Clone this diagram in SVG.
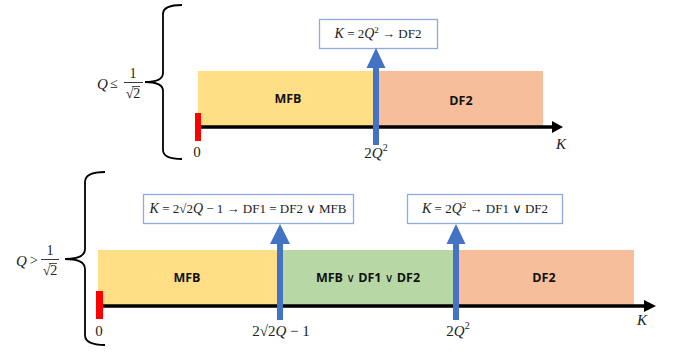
<svg xmlns="http://www.w3.org/2000/svg" width="676" height="356" viewBox="0 0 676 356">
<defs>
<style>
.m{font-family:"Liberation Serif","DejaVu Serif",serif;font-size:14px;fill:#222}
.mi{font-family:"Liberation Serif","DejaVu Serif",serif;font-style:italic;font-size:15px;fill:#222}
.b{font-family:"Open Sans","Liberation Sans",sans-serif;font-weight:bold;font-size:12.5px;fill:#111;text-anchor:middle}
.or{font-family:"DejaVu Sans",sans-serif;font-weight:normal;font-size:12px}
.box{fill:#fff;stroke:#8FAADC;stroke-width:1.3}
.brace{fill:none;stroke:#000;stroke-width:1.8}
.axis{stroke:#000;stroke-width:3.5}
.yel{fill:#FFDE85}
.ora{fill:#F6BE9A}
.grn{fill:#B7D7A5}
.blue{fill:#4472C4}
.red{fill:#FF0000}
</style>
</defs>

<!-- Top case -->
<g id="top-brace">
<path class="brace" d="M182,5 Q163,5 163,14 L163,73 Q163,82 145,82 Q163,82 163,91 L163,150 Q163,159 182,159"/>
<text class="mi" x="97" y="89">Q</text>
<text class="m" x="110" y="88">≤</text>
<text class="m" x="133" y="78" text-anchor="middle">1</text>
<line x1="124" y1="82.5" x2="143" y2="82.5" stroke="#222" stroke-width="0.9"/>
<text class="m" x="133" y="98" text-anchor="middle">√2</text>
<line x1="132" y1="86.5" x2="140" y2="86.5" stroke="#222" stroke-width="0.8"/>
</g>

<g id="top-mfb">
<rect class="yel" x="198" y="71" width="177" height="56"/>
<text class="b" x="288" y="103">MFB</text>
</g>
<g id="top-df2">
<rect class="ora" x="375" y="71" width="168" height="56"/>
<text class="b" x="461" y="105">DF2</text>
</g>

<g id="top-box">
<rect class="box" x="319.5" y="19.5" width="118" height="29"/>
<text x="378" y="38" text-anchor="middle"><tspan class="mi" style="font-size:14px">K</tspan><tspan class="m" style="font-size:13px"> = 2</tspan><tspan class="mi" style="font-size:14px">Q</tspan><tspan class="m" style="font-size:9px" dy="-5">2</tspan><tspan class="m" style="font-size:13px" dy="5"> → DF2</tspan></text>
</g>

<!-- Bottom case -->
<g id="bottom-brace">
<path class="brace" d="M105,172 Q85,172 85,182 L85,249 Q85,259 65,259 Q85,259 85,269 L85,335 Q85,345 105,345"/>
<text class="mi" x="16" y="266">Q</text>
<text class="m" x="30" y="265">&gt;</text>
<text class="m" x="50" y="255" text-anchor="middle">1</text>
<line x1="41" y1="259.5" x2="59" y2="259.5" stroke="#222" stroke-width="0.9"/>
<text class="m" x="50" y="275" text-anchor="middle">√2</text>
<line x1="49" y1="263.5" x2="57" y2="263.5" stroke="#222" stroke-width="0.8"/>
</g>

<g id="bottom-mfb">
<rect class="yel" x="98" y="250" width="182" height="56"/>
<text class="b" x="187" y="282">MFB</text>
</g>
<g id="bottom-mix">
<rect class="grn" x="280" y="250" width="177" height="56"/>
<text class="b" x="368" y="282">MFB <tspan class="or">∨</tspan> DF1 <tspan class="or">∨</tspan> DF2</text>
</g>
<g id="bottom-df2">
<rect class="ora" x="457" y="250" width="177" height="56"/>
<text class="b" x="544" y="282">DF2</text>
</g>

<g id="box-df1">
<rect class="box" x="143.5" y="194.5" width="210" height="29"/>
<text x="248" y="213" text-anchor="middle"><tspan class="mi" style="font-size:14px">K</tspan><tspan class="m" style="font-size:13px"> = 2√2</tspan><tspan class="mi" style="font-size:14px">Q</tspan><tspan class="m" style="font-size:13px"> − 1 → DF1 = DF2 ∨ MFB</tspan></text>
</g>
<g id="box-df1df2">
<rect class="box" x="407.5" y="194.5" width="155" height="29"/>
<text x="485" y="213" text-anchor="middle"><tspan class="mi" style="font-size:14px">K</tspan><tspan class="m" style="font-size:13px"> = 2</tspan><tspan class="mi" style="font-size:14px">Q</tspan><tspan class="m" style="font-size:9px" dy="-5">2</tspan><tspan class="m" style="font-size:13px" dy="5"> → DF1 ∨ DF2</tspan></text>
</g>

<g id="connectors">
<line class="axis" x1="200" y1="127" x2="553" y2="127"/>
<path d="M552,121 L563,127 L552,133 z" fill="#000"/>
<rect class="red" x="195" y="113" width="6" height="28"/>
<rect class="blue" x="373" y="67" width="6" height="78"/>
<path class="blue" d="M366.5,68 L376,48 L385.5,68 z"/>

<line class="axis" x1="100" y1="306" x2="645" y2="306"/>
<path d="M644,300 L656,306 L644,312 z" fill="#000"/>
<rect class="red" x="96" y="291" width="7" height="28"/>
<rect class="blue" x="277" y="243" width="6" height="77"/>
<path class="blue" d="M270,244 L280,224 L290,244 z"/>
<rect class="blue" x="453" y="243" width="6" height="77"/>
<path class="blue" d="M446.5,244 L456,224 L465.5,244 z"/>
</g>

<g id="top-labels">
<text class="m" x="197" y="157" text-anchor="middle" style="font-size:15px">0</text>
<text x="376" y="158" text-anchor="middle"><tspan class="m" style="font-size:15px">2</tspan><tspan class="mi">Q</tspan><tspan class="m" style="font-size:10px" dy="-7">2</tspan></text>
<text class="mi" x="556" y="149">K</text>
</g>

<g id="bottom-labels">
<text class="m" x="99" y="336" text-anchor="middle" style="font-size:15px">0</text>
<text x="281" y="336" text-anchor="middle"><tspan class="m" style="font-size:15px">2√2</tspan><tspan class="mi">Q</tspan><tspan class="m" style="font-size:15px"> − 1</tspan></text>
<text x="458" y="336" text-anchor="middle"><tspan class="m" style="font-size:15px">2</tspan><tspan class="mi">Q</tspan><tspan class="m" style="font-size:10px" dy="-7">2</tspan></text>
<text class="mi" x="637" y="325">K</text>
</g>
</svg>
